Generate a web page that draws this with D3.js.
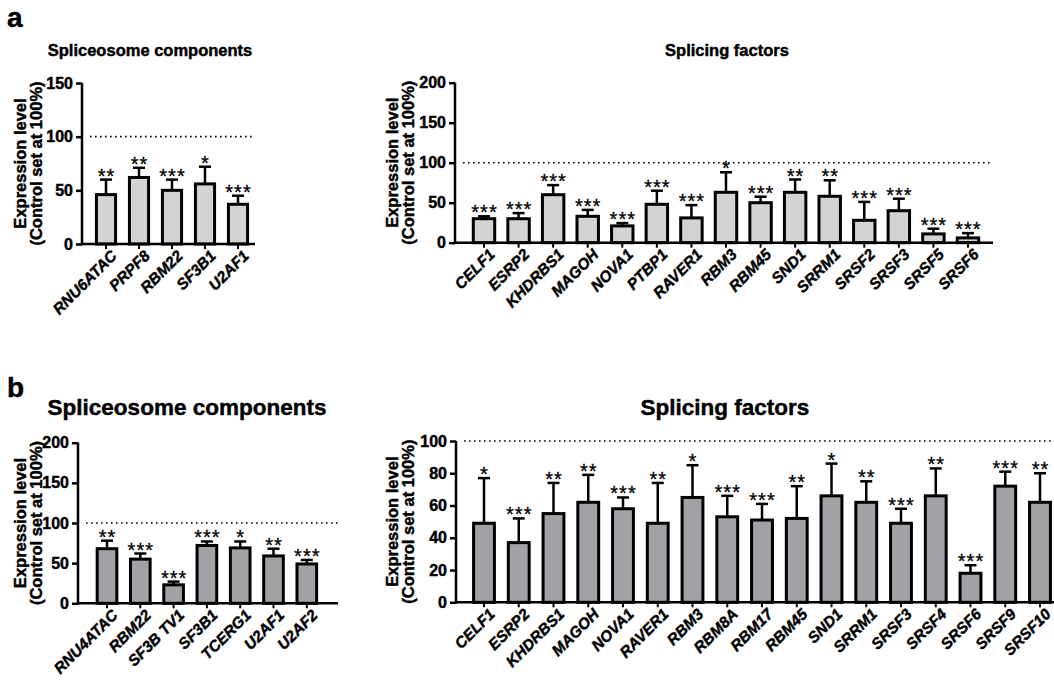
<!DOCTYPE html>
<html>
<head>
<meta charset="utf-8">
<script src="https://cdn.jsdelivr.net/npm/d3@7"></script>
<style>
  html, body { margin: 0; padding: 0; background: #fff; }
  svg { display: block; font-family: "Liberation Sans", Arial, sans-serif; }
  .heavy { stroke: #000; stroke-width: 0.45px; }
</style>
</head>
<body>
<svg id="chart" width="1054" height="683"></svg>
<script>
// ---------- DATA ----------
const aLeftCategories = ["RNU6ATAC", "PRPF8", "RBM22", "SF3B1", "U2AF1"];
const aLeftValues = [46, 62, 50, 56, 37];
const aLeftErrors = [14, 9, 10, 16, 8];
const aLeftStars = ["**", "**", "***", "*", "***"];
const aLeftTicks = [0, 50, 100, 150];

const aRightCategories = ["CELF1", "ESRP2", "KHDRBS1", "MAGOH", "NOVA1", "PTBP1", "RAVER1", "RBM3", "RBM45", "SND1", "SRRM1", "SRSF2", "SRSF3", "SRSF5", "SRSF6"];
const aRightValues = [30, 30, 60, 33, 21, 48, 31, 63, 50, 63, 58, 28, 40, 11, 6];
const aRightErrors = [3, 7, 12, 8, 3.5, 17, 16, 25, 7.5, 16, 20, 23, 15, 6.5, 6];
const aRightStars = ["***", "***", "***", "***", "***", "***", "***", "*", "***", "**", "**", "***", "***", "***", "***"];
const aRightTicks = [0, 50, 100, 150, 200];

const bLeftCategories = ["RNU4ATAC", "RBM22", "SF3B TV1", "SF3B1", "TCERG1", "U2AF1", "U2AF2"];
const bLeftValues = [68, 55, 23, 72, 69, 59, 49];
const bLeftErrors = [10, 7, 4, 5, 8, 9, 5];
const bLeftStars = ["**", "***", "***", "***", "*", "**", "***"];
const bLeftTicks = [0, 50, 100, 150, 200];

const bRightCategories = ["CELF1", "ESRP2", "KHDRBS1", "MAGOH", "NOVA1", "RAVER1", "RBM3", "RBM8A", "RBM17", "RBM45", "SND1", "SRRM1", "SRSF3", "SRSF4", "SRSF6", "SRSF9", "SRSF10"];
const bRightValues = [49, 37, 55, 62, 58, 49, 65, 53, 51, 52, 66, 62, 49, 66, 18, 72, 62];
const bRightErrors = [28, 15, 19, 17, 7, 25, 20, 13, 10, 20, 20, 13, 9, 17, 5, 9, 18];
const bRightStars = ["*", "***", "**", "**", "***", "**", "*", "***", "***", "**", "*", "**", "***", "**", "***", "***", "**"];
const bRightTicks = [0, 20, 40, 60, 80, 100];

const panelLetters = ["a", "b"];
const titles = ["Spliceosome components", "Splicing factors"];
const yTitle1 = "Expression level";
const yTitle2 = "(Control set at 100%)";
const referenceLevel = 100;

// ---------- LAYOUT ----------
const svg = d3.select("#chart");

function drawPanel(cfg) {
  const g = svg.append("g");
  const x = d3.scaleBand()
    .domain(cfg.categories)
    .range([cfg.firstCenter - cfg.step / 2, cfg.firstCenter + cfg.step * (cfg.categories.length - 0.5)])
    .paddingInner(cfg.pad).paddingOuter(cfg.pad / 2);
  const y = d3.scaleLinear().domain([0, cfg.max]).range([cfg.y0, cfg.yTop]);

  // reference dotted line
  g.append("line")
    .attr("x1", cfg.axisX + 8).attr("x2", cfg.axisEnd)
    .attr("y1", y(referenceLevel)).attr("y2", y(referenceLevel))
    .attr("stroke", "#000").attr("stroke-width", 1.6)
    .attr("stroke-dasharray", "1.6,3.4");

  const data = cfg.categories.map((c, i) => ({ c, v: cfg.values[i], e: cfg.errors[i], s: cfg.stars[i] }));

  // error bars
  const eb = g.append("g");
  eb.selectAll("line.v").data(data).join("line")
    .attr("x1", d => x(d.c) + x.bandwidth() / 2).attr("x2", d => x(d.c) + x.bandwidth() / 2)
    .attr("y1", d => y(d.v)).attr("y2", d => y(d.v + d.e))
    .attr("stroke", "#000").attr("stroke-width", 2.5);
  eb.selectAll("line.c").data(data).join("line")
    .attr("x1", d => x(d.c) + x.bandwidth() / 2 - 6).attr("x2", d => x(d.c) + x.bandwidth() / 2 + 6)
    .attr("y1", d => y(d.v + d.e)).attr("y2", d => y(d.v + d.e))
    .attr("stroke", "#000").attr("stroke-width", 2.5);

  // bars
  g.append("g").selectAll("rect").data(data).join("rect")
    .attr("x", d => x(d.c)).attr("width", x.bandwidth())
    .attr("y", d => y(d.v)).attr("height", d => y(0) - y(d.v))
    .attr("fill", cfg.fill).attr("stroke", "#000").attr("stroke-width", 3);

  // stars
  g.append("g").selectAll("text").data(data).join("text")
    .attr("x", d => x(d.c) + x.bandwidth() / 2 + 0.5)
    .attr("y", d => y(d.v + d.e) + 3)
    .attr("text-anchor", "middle")
    .attr("font-size", 20).attr("letter-spacing", 1)
    .attr("stroke", "#000").attr("stroke-width", 0.3)
    .text(d => d.s);

  // y axis
  const ya = g.append("g").attr("transform", `translate(${cfg.axisX},0)`)
    .call(d3.axisLeft(y).tickValues(cfg.ticks).tickSize(6).tickPadding(3));
  ya.select(".domain").attr("stroke-width", 2.5)
    .attr("d", `M0,${cfg.y0 + 1.25}V${cfg.yTop}`);
  ya.selectAll(".tick line").attr("stroke-width", 2.5);
  ya.selectAll(".tick text").attr("font-size", 16).attr("font-weight", "bold")
    .attr("font-family", "Liberation Sans, Arial, sans-serif").attr("class", "heavy");

  // x axis
  const xa = g.append("g").attr("transform", `translate(0,${cfg.y0})`)
    .call(d3.axisBottom(x).tickSize(5).tickPadding(2));
  xa.select(".domain").attr("stroke-width", 2.5)
    .attr("d", `M${cfg.axisX},0H${cfg.axisEnd}`);
  xa.selectAll(".tick line").attr("stroke-width", 2);
  xa.selectAll(".tick text")
    .attr("font-size", 15.5).attr("font-weight", "bold").attr("font-style", "italic")
    .attr("font-family", "Liberation Sans, Arial, sans-serif").attr("class", "heavy")
    .attr("text-anchor", "end")
    .attr("transform", "translate(4,5) rotate(-45)")
    .attr("dy", "0.71em").attr("y", 0).attr("x", 0);

  // y titles
  const ym = (cfg.y0 + cfg.yTop) / 2;
  g.append("text").attr("transform", `translate(${cfg.titleX},${ym}) rotate(-90)`)
    .attr("text-anchor", "middle").attr("font-size", 16.5).attr("font-weight", "bold").attr("class", "heavy")
    .text(yTitle1);
  g.append("text").attr("transform", `translate(${cfg.titleX + 16},${ym}) rotate(-90)`)
    .attr("text-anchor", "middle").attr("font-size", 16.5).attr("font-weight", "bold").attr("class", "heavy")
    .text(yTitle2);

  // panel title
  g.append("text").attr("x", cfg.headX).attr("y", cfg.headY)
    .attr("text-anchor", "middle").attr("font-size", cfg.headSize).attr("font-weight", "bold").attr("class", "heavy")
    .text(cfg.title);
}

drawPanel({ categories: aLeftCategories, values: aLeftValues, errors: aLeftErrors, stars: aLeftStars,
  ticks: aLeftTicks, max: 150, y0: 244, yTop: 83, axisX: 82, axisEnd: 255, firstCenter: 106, step: 33,
  pad: 0.42, fill: "#d3d3d3", titleX: 26, title: titles[0], headX: 150, headY: 56, headSize: 16.5 });
drawPanel({ categories: aRightCategories, values: aRightValues, errors: aRightErrors, stars: aRightStars,
  ticks: aRightTicks, max: 200, y0: 242.7, yTop: 82.7, axisX: 455, axisEnd: 993, firstCenter: 484, step: 34.57,
  pad: 0.38, fill: "#d3d3d3", titleX: 398, title: titles[1], headX: 727, headY: 56, headSize: 16.5 });
drawPanel({ categories: bLeftCategories, values: bLeftValues, errors: bLeftErrors, stars: bLeftStars,
  ticks: bLeftTicks, max: 200, y0: 603.3, yTop: 442.7, axisX: 78, axisEnd: 338, firstCenter: 107, step: 33.3,
  pad: 0.41, fill: "#a2a2a6", titleX: 26, title: titles[0], headX: 187, headY: 415, headSize: 22.5 });
drawPanel({ categories: bRightCategories, values: bRightValues, errors: bRightErrors, stars: bRightStars,
  ticks: bRightTicks, max: 100, y0: 602.3, yTop: 441, axisX: 456, axisEnd: 1054, firstCenter: 484, step: 34.75,
  pad: 0.40, fill: "#a2a2a6", titleX: 398, title: titles[1], headX: 725, headY: 415, headSize: 22.5 });

// panel letters
svg.append("text").attr("x", 7).attr("y", 27).attr("font-size", 28).attr("font-weight", "bold").attr("class", "heavy").text(panelLetters[0]);
svg.append("text").attr("x", 7).attr("y", 397).attr("font-size", 28).attr("font-weight", "bold").attr("class", "heavy").text(panelLetters[1]);
</script>
</body>
</html>
